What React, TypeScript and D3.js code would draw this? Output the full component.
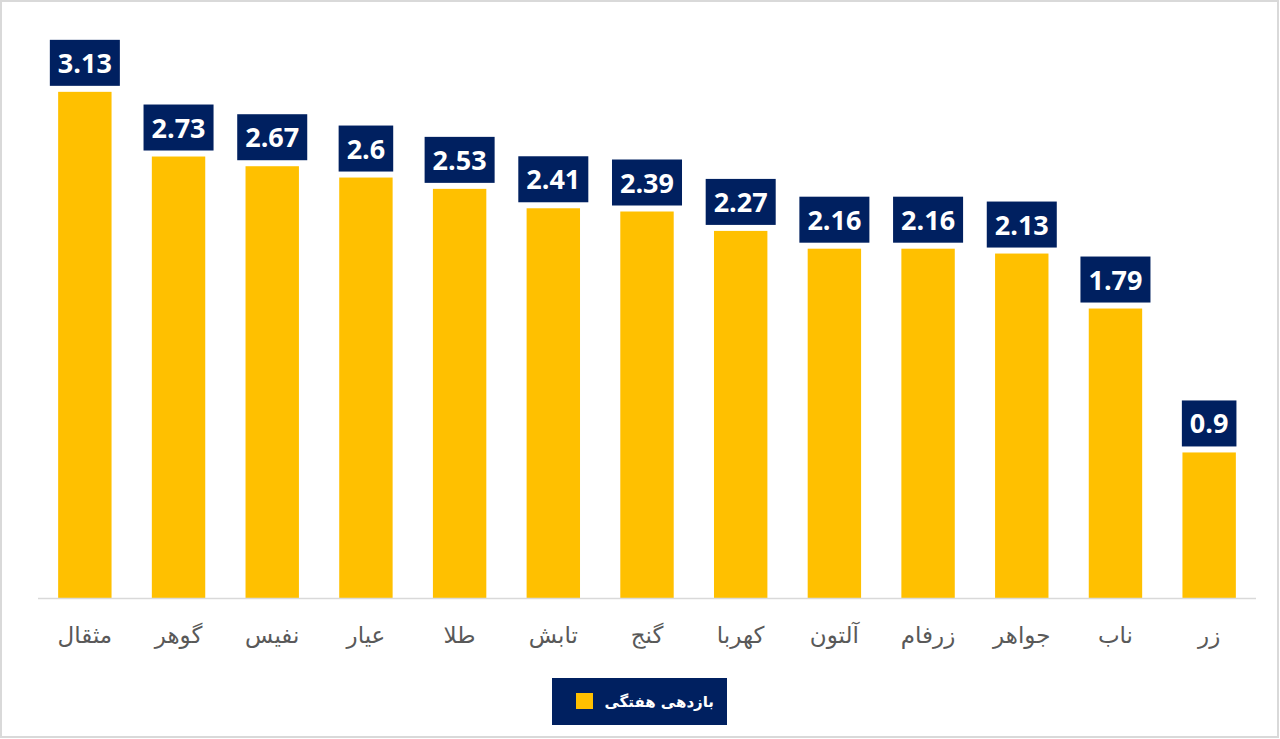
import React, { useEffect, useRef } from "react";
import * as d3 from "d3";

const categories = ["مثقال", "گوهر", "نفیس", "عیار", "طلا", "تابش", "گنج", "کهربا", "آلتون", "زرفام", "جواهر", "ناب", "زر"];
const values = [3.13, 2.73, 2.67, 2.6, 2.53, 2.41, 2.39, 2.27, 2.16, 2.16, 2.13, 1.79, 0.9];
const valueLabels = ["3.13", "2.73", "2.67", "2.6", "2.53", "2.41", "2.39", "2.27", "2.16", "2.16", "2.13", "1.79", "0.9"];
const seriesName = "بازدهی هفتگی";

const W = 1280;
const H = 739;
const BAR = "#FFC000";
const NAVY = "#002060";

export default function App() {
  const ref = useRef<SVGSVGElement>(null);
  useEffect(() => {
    document.body.style.margin = "0";
    const svg = d3.select(ref.current!);
    svg.selectAll("*").remove();

    svg.append("rect").attr("x", 0).attr("y", 0).attr("width", W).attr("height", H).attr("fill", "#fff");
    svg.append("rect").attr("x", 1).attr("y", 1).attr("width", W - 3).attr("height", H - 3)
      .attr("fill", "none").attr("stroke", "#d9d9d9").attr("stroke-width", 2);

    const x = d3.scaleBand<string>().domain(categories).range([38, 1256]).paddingInner(0.43).paddingOuter(0.215);
    const y = d3.scaleLinear().domain([0, 3.5]).range([598, 32]);

    const g = svg.append("g");
    g.selectAll("rect.bar").data(values).enter().append("rect")
      .attr("class", "bar")
      .attr("x", (_, i) => x(categories[i])!)
      .attr("y", d => y(d))
      .attr("width", x.bandwidth())
      .attr("height", d => y(0) - y(d))
      .attr("fill", BAR);

    svg.append("line").attr("x1", 38).attr("x2", 1256).attr("y1", 598.5).attr("y2", 598.5)
      .attr("stroke", "#d9d9d9").attr("stroke-width", 1.5);

    // value labels
    values.forEach((v, i) => {
      const cx = x(categories[i])! + x.bandwidth() / 2;
      const bottom = y(v) - 6;
      const lg = svg.append("g");
      const bg = lg.append("rect").attr("fill", NAVY);
      const t = lg.append("text").text(valueLabels[i])
        .attr("x", cx).attr("y", bottom - 13)
        .attr("text-anchor", "middle")
        .attr("font-family", "'Open Sans', 'DejaVu Sans', sans-serif")
        .attr("font-weight", 700).attr("font-size", 27).attr("fill", "#fff");
      const tw = (t.node() as SVGTextElement).getComputedTextLength();
      const bw = tw + 16;
      bg.attr("x", cx - bw / 2).attr("y", bottom - 46).attr("width", bw).attr("height", 46);
    });

    // category labels
    svg.selectAll("text.cat").data(categories).enter().append("text")
      .attr("class", "cat")
      .attr("x", d => x(d)! + x.bandwidth() / 2)
      .attr("y", 643)
      .attr("text-anchor", "middle")
      .attr("font-family", "'DejaVu Sans', sans-serif")
      .attr("font-size", 23).attr("fill", "#595959")
      .text(d => d);

    // legend
    svg.append("rect").attr("x", 552).attr("y", 678).attr("width", 175).attr("height", 47).attr("fill", NAVY);
    svg.append("rect").attr("x", 576).attr("y", 693).attr("width", 17).attr("height", 16).attr("fill", BAR);
    svg.append("text").attr("x", 714).attr("y", 707).attr("text-anchor", "end")
      .attr("font-family", "'DejaVu Sans', sans-serif").attr("font-weight", 700)
      .attr("font-size", 15).attr("fill", "#fff").text(seriesName);
  }, []);
  return <svg ref={ref} width={W} height={H} style={{ display: "block" }} />;
}
